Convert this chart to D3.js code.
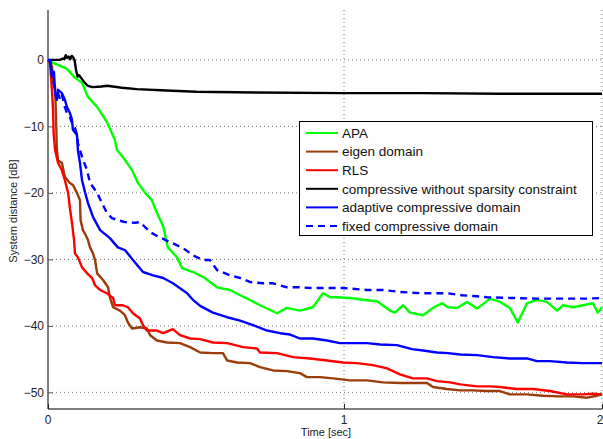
<!DOCTYPE html>
<html>
<head>
<meta charset="utf-8">
<script src="https://cdn.jsdelivr.net/npm/d3@7"></script>
<style>
  body { margin: 0; background: #fff; }
  text { font-family: "Liberation Sans", Arial, Helvetica, sans-serif; }
</style>
</head>
<body>
<div id="chart"></div>
<script>
// values: [time sec, dB]
var xTicks = [0, 1, 2];
var yTicks = [0, -10, -20, -30, -40, -50];

var apa = [[0,0],[0.017,-0.45],[0.041,-0.9],[0.064,-1.36],[0.091,-2.67],[0.115,-3.46],[0.135,-5.57],[0.166,-7.08],[0.199,-9.34],[0.226,-12.05],[0.233,-13.55],[0.253,-14.6],[0.284,-16.57],[0.304,-18.5],[0.328,-20.0],[0.351,-21.1],[0.368,-23.0],[0.389,-25.0],[0.405,-28.2],[0.436,-29.7],[0.453,-31.3],[0.49,-31.9],[0.53,-32.8],[0.571,-34.2],[0.615,-34.6],[0.649,-35.4],[0.682,-36.1],[0.716,-36.9],[0.774,-38.1],[0.807,-37.3],[0.851,-37.7],[0.895,-37.2],[0.929,-35.1],[0.953,-35.7],[0.976,-35.7],[1.023,-35.8],[1.081,-36.1],[1.128,-36.3],[1.178,-37.7],[1.198,-38.0],[1.229,-36.9],[1.256,-38.0],[1.306,-38.4],[1.345,-37.3],[1.38,-36.6],[1.403,-37.2],[1.438,-37.3],[1.477,-36.4],[1.516,-37.4],[1.566,-35.9],[1.605,-36.4],[1.643,-37.3],[1.674,-39.5],[1.709,-36.6],[1.748,-36.1],[1.787,-36.4],[1.826,-37.7],[1.849,-36.9],[1.888,-37.2],[1.926,-36.9],[1.965,-36.6],[1.984,-38.0],[2.0,-37.2]];

var eigen = [[0,0],[0.007,-0.15],[0.014,-1.05],[0.017,-3.0],[0.024,-4.1],[0.027,-8.6],[0.03,-13.55],[0.034,-15.1],[0.047,-15.5],[0.057,-17.6],[0.074,-18.5],[0.084,-18.8],[0.098,-20.0],[0.108,-21.1],[0.11,-24.1],[0.118,-25.6],[0.128,-26.4],[0.135,-27.1],[0.142,-28.2],[0.152,-29.1],[0.159,-30.1],[0.166,-32.1],[0.186,-33.1],[0.203,-34.2],[0.209,-35.7],[0.22,-37.2],[0.243,-37.7],[0.26,-38.4],[0.27,-39.5],[0.284,-40.4],[0.311,-40.2],[0.334,-40.4],[0.345,-41.4],[0.368,-42.2],[0.402,-42.5],[0.446,-42.6],[0.48,-43.2],[0.514,-44.0],[0.557,-44.1],[0.591,-44.1],[0.605,-45.2],[0.639,-45.5],[0.682,-45.6],[0.716,-46.2],[0.76,-46.7],[0.807,-46.8],[0.851,-47.1],[0.875,-47.7],[0.919,-47.7],[0.963,-47.9],[1.023,-48.2],[1.089,-48.2],[1.151,-48.5],[1.217,-48.6],[1.267,-48.6],[1.322,-48.6],[1.345,-49.2],[1.399,-49.5],[1.45,-49.7],[1.5,-49.7],[1.554,-49.8],[1.605,-49.8],[1.643,-50.3],[1.709,-50.3],[1.771,-50.5],[1.837,-50.6],[1.888,-50.6],[1.942,-50.8],[1.981,-50.5],[2.0,-50.3]];

var rls = [[0,0],[0.007,-0.45],[0.014,-5.0],[0.017,-7.5],[0.019,-11.0],[0.024,-13.55],[0.034,-15.5],[0.047,-16.6],[0.057,-18.1],[0.068,-20.0],[0.074,-22.3],[0.081,-24.5],[0.088,-27.1],[0.091,-29.1],[0.101,-29.7],[0.115,-31.2],[0.132,-32.1],[0.149,-32.8],[0.159,-33.9],[0.176,-34.6],[0.199,-35.1],[0.22,-35.8],[0.226,-36.9],[0.253,-36.9],[0.27,-37.2],[0.287,-38.1],[0.311,-38.9],[0.321,-39.9],[0.334,-40.7],[0.368,-40.7],[0.389,-41.1],[0.422,-40.5],[0.446,-41.4],[0.48,-41.9],[0.514,-42.0],[0.557,-42.5],[0.605,-42.6],[0.659,-43.2],[0.706,-43.4],[0.716,-44.0],[0.774,-44.1],[0.828,-44.7],[0.885,-44.9],[0.943,-45.2],[0.997,-45.5],[1.05,-45.6],[1.112,-45.9],[1.167,-46.4],[1.217,-47.3],[1.267,-47.9],[1.322,-47.9],[1.36,-48.3],[1.411,-48.5],[1.45,-48.8],[1.516,-49.1],[1.566,-49.1],[1.605,-49.2],[1.671,-49.5],[1.733,-49.5],[1.798,-49.8],[1.864,-50.3],[1.926,-50.3],[1.965,-50.2],[2.0,-50.3]];

var compressive = [[0,0],[0.04,0.0],[0.05,0.2],[0.055,0.1],[0.06,0.7],[0.065,0.3],[0.07,0.5],[0.075,0.1],[0.08,0.6],[0.085,0.4],[0.09,-0.1],[0.095,-1.6],[0.1,-2.5],[0.105,-2.3],[0.115,-2.9],[0.125,-3.5],[0.135,-3.9],[0.15,-4.1],[0.18,-4.0],[0.2,-3.9],[0.25,-4.2],[0.3,-4.4],[0.4,-4.6],[0.5,-4.8],[0.7,-4.9],[1.0,-5.0],[1.3,-5.0],[1.6,-5.1],[2.0,-5.1]];

var adaptive = [[0,0],[0.007,-0.3],[0.014,-2.56],[0.02,-1.8],[0.024,-5.0],[0.03,-6.0],[0.034,-4.5],[0.047,-5.0],[0.057,-6.0],[0.064,-7.1],[0.074,-8.0],[0.081,-9.0],[0.084,-10.5],[0.098,-11.3],[0.101,-13.55],[0.108,-15.5],[0.115,-18.1],[0.125,-19.9],[0.135,-21.5],[0.152,-23.6],[0.176,-25.6],[0.209,-26.8],[0.236,-28.2],[0.26,-28.6],[0.287,-30.1],[0.321,-31.9],[0.355,-32.4],[0.389,-32.8],[0.422,-33.6],[0.47,-35.1],[0.49,-36.1],[0.514,-37.0],[0.557,-38.0],[0.605,-38.7],[0.649,-39.2],[0.693,-39.9],[0.74,-40.7],[0.784,-41.1],[0.818,-41.3],[0.851,-41.9],[0.895,-41.9],[0.943,-42.2],[0.986,-42.6],[1.035,-42.6],[1.089,-42.6],[1.14,-42.8],[1.205,-42.9],[1.264,-43.5],[1.306,-43.7],[1.36,-44.0],[1.403,-44.1],[1.45,-44.3],[1.516,-44.4],[1.578,-44.7],[1.643,-44.9],[1.709,-44.9],[1.748,-45.3],[1.798,-45.3],[1.864,-45.5],[1.926,-45.6],[2.0,-45.6]];

var fixed = [[0,0],[0.007,0],[0.014,-2.56],[0.024,-4.5],[0.034,-5.0],[0.041,-6.0],[0.047,-5.3],[0.057,-7.1],[0.064,-8.0],[0.074,-8.6],[0.081,-9.5],[0.091,-10.2],[0.098,-11.3],[0.101,-12.5],[0.108,-13.55],[0.115,-14.6],[0.132,-16.6],[0.142,-18.5],[0.166,-20.0],[0.182,-21.5],[0.199,-23.0],[0.216,-23.8],[0.236,-24.1],[0.26,-24.4],[0.294,-24.5],[0.311,-24.4],[0.345,-25.9],[0.378,-26.7],[0.422,-27.6],[0.456,-28.3],[0.49,-29.4],[0.524,-30.1],[0.547,-30.1],[0.571,-31.6],[0.615,-32.4],[0.649,-32.8],[0.682,-33.4],[0.726,-33.6],[0.76,-33.6],[0.807,-34.2],[0.851,-34.2],[0.885,-34.3],[0.943,-34.3],[0.997,-34.3],[1.089,-34.6],[1.151,-34.6],[1.217,-34.9],[1.306,-35.1],[1.403,-35.1],[1.457,-35.4],[1.5,-35.5],[1.554,-35.7],[1.643,-35.8],[1.748,-35.9],[1.837,-35.9],[1.942,-35.9],[2.0,-35.8]];

var seriesNames = ["APA", "eigen domain", "RLS", "compressive without sparsity constraint", "adaptive compressive domain", "fixed compressive domain"];
var seriesData = [apa, eigen, rls, compressive, adaptive, fixed];
var seriesColors = ["#00ff00", "#9c3c0a", "#ff0000", "#000000", "#0000ff", "#0000ff"];
var seriesDash = [null, null, null, null, null, "7,5"];

var width = 603, height = 439;

var svg = d3.select("#chart").append("svg")
    .attr("width", width)
    .attr("height", height);

// the x spacing in the picture is not even between 0-1 and 1-2
var x = d3.scaleLinear().domain([0, 1, 2]).range([48, 344, 602]);
var y = d3.scaleLinear().domain([-52.5, 7.5]).range([409, 10]);

// grid
svg.append("g")
    .selectAll("line")
    .data(yTicks)
    .join("line")
      .attr("x1", x(0)).attr("x2", x(2))
      .attr("y1", d => y(d)).attr("y2", d => y(d))
      .attr("stroke", "#777")
      .attr("stroke-width", 1)
      .attr("stroke-dasharray", "1,3");

svg.append("g")
    .selectAll("line")
    .data(xTicks.slice(1))
    .join("line")
      .attr("x1", d => x(d)).attr("x2", d => x(d))
      .attr("y1", y(7.5)).attr("y2", y(-52.5))
      .attr("stroke", "#777")
      .attr("stroke-width", 1)
      .attr("stroke-dasharray", "1,3");

// axes, MATLAB style ticks pointing in
var yAxis = svg.append("g")
    .attr("transform", "translate(" + x(0) + ",0)")
    .call(d3.axisRight(y).tickValues(yTicks).tickSize(5).tickFormat(""));
yAxis.select(".domain").attr("stroke", "#555").attr("stroke-width", 1.5).attr("d", "M0," + y(7.5) + "V" + y(-52.5));
yAxis.selectAll(".tick line").attr("stroke", "#555");

svg.append("g")
    .selectAll("text")
    .data(yTicks)
    .join("text")
      .attr("x", x(0) - 4)
      .attr("y", d => y(d))
      .attr("dy", "0.35em")
      .attr("text-anchor", "end")
      .attr("font-size", 12)
      .attr("fill", "#222")
      .text(d => d3.format("")(d).replace("-", "\u2212"));

var xAxis = svg.append("g")
    .attr("transform", "translate(0," + y(-52.5) + ")")
    .call(d3.axisTop(x).tickValues(xTicks).tickSize(5).tickFormat(""));
xAxis.select(".domain").attr("stroke", "#555").attr("stroke-width", 1.5).attr("d", "M" + x(0) + ",0H" + x(2));
xAxis.selectAll(".tick line").attr("stroke", "#222");

svg.append("g")
    .selectAll("text")
    .data(xTicks)
    .join("text")
      .attr("x", d => d === 2 ? x(d) - 2 : x(d))
      .attr("y", y(-52.5) + 15)
      .attr("text-anchor", "middle")
      .attr("font-size", 12)
      .attr("fill", "#222")
      .text(d => d);

svg.append("text")
    .attr("x", 326)
    .attr("y", 436)
    .attr("text-anchor", "middle")
    .attr("font-size", 11)
    .attr("fill", "#222")
    .text("Time [sec]");

svg.append("text")
    .attr("transform", "translate(17,211) rotate(-90)")
    .attr("text-anchor", "middle")
    .attr("font-size", 11)
    .attr("fill", "#222")
    .text("System distance [dB]");

// curves
var line = d3.line()
    .x(d => x(d[0]))
    .y(d => y(d[1]));

var plot = svg.append("g");
seriesData.forEach(function(data, i) {
  plot.append("path")
      .datum(data)
      .attr("fill", "none")
      .attr("stroke", seriesColors[i])
      .attr("stroke-width", 2.4)
      .attr("stroke-linejoin", "round")
      .attr("stroke-dasharray", seriesDash[i])
      .attr("d", line);
});

// legend
var legend = svg.append("g");
legend.append("rect")
    .attr("x", 299.5).attr("y", 121.5)
    .attr("width", 293).attr("height", 114)
    .attr("fill", "#fff")
    .attr("stroke", "#000")
    .attr("stroke-width", 1);

var rows = legend.selectAll("g.row")
    .data(seriesNames)
    .join("g")
      .attr("class", "row")
      .attr("transform", (d, i) => "translate(0," + (133 + i * 18.6) + ")");

rows.append("line")
    .attr("x1", 306).attr("x2", 338)
    .attr("stroke", (d, i) => seriesColors[i])
    .attr("stroke-width", 2)
    .attr("stroke-dasharray", (d, i) => seriesDash[i]);

rows.append("text")
    .attr("x", 342)
    .attr("dy", "0.35em")
    .attr("font-size", 13.5)
    .attr("fill", "#111")
    .text(d => d);
</script>
</body>
</html>
